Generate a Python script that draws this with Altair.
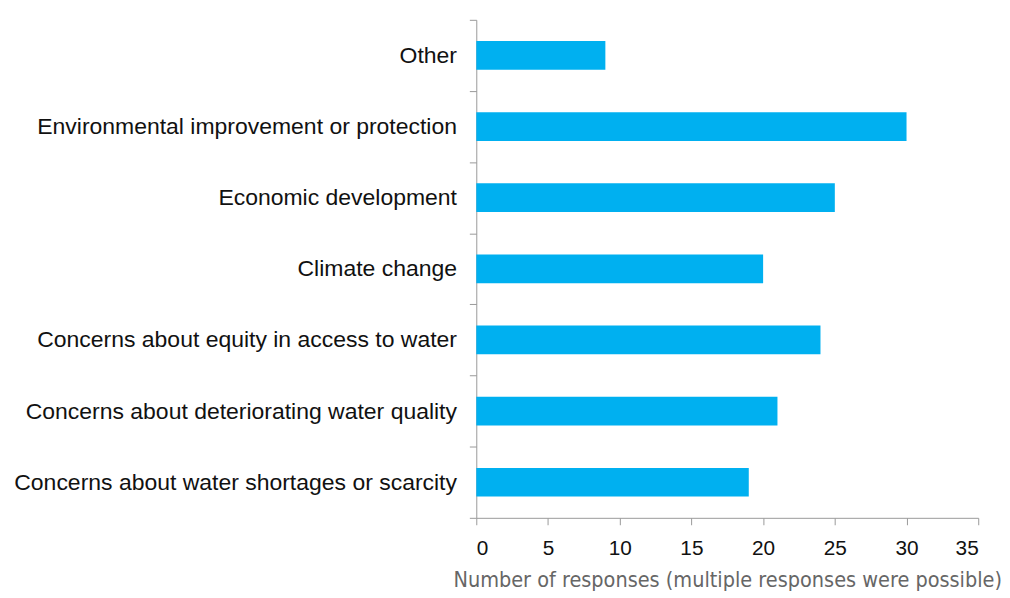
import altair as alt
import pandas as pd

categories = [
    "Other",
    "Environmental improvement or protection",
    "Economic development",
    "Climate change",
    "Concerns about equity in access to water",
    "Concerns about deteriorating water quality",
    "Concerns about water shortages or scarcity",
]
values = [9, 30, 25, 20, 24, 21, 19]

df = pd.DataFrame({"category": categories, "responses": values})

chart = alt.Chart(df).mark_bar(color="#00B0F0", size=29).encode(
    y=alt.Y("category:N", sort=categories, title=None,
            scale=alt.Scale(paddingInner=0, paddingOuter=0),
            axis=alt.Axis(tickBand="extent", labelFontSize=23.2, labelFont="Liberation Sans",
                          labelColor="#111", labelPadding=13, tickSize=7,
                          domainColor="#999", tickColor="#999", labelLimit=600)),
    x=alt.X("responses:Q", title="Number of responses (multiple responses were possible)",
            scale=alt.Scale(domain=[0, 35]),
            axis=alt.Axis(values=[0, 5, 10, 15, 20, 25, 30, 35], grid=False,
                          labelFontSize=21, labelFont="Liberation Sans", labelColor="#111",
                          labelPadding=13, tickSize=7, domainColor="#999", tickColor="#999",
                          titleFontSize=21.7, titleFont="Liberation Sans Narrow, DejaVu Sans Condensed, Liberation Sans",
                          titleFontWeight="normal", titleColor="#666", titlePadding=11)),
).properties(width=507, height=503,
             padding={"top": -3, "left": 5, "right": 0, "bottom": 0}
).configure_view(stroke=None)

chart.save("out.html", embed_options={"renderer": "svg", "actions": False})
